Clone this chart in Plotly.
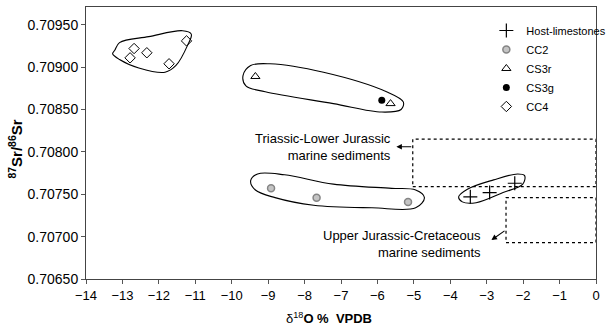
import plotly.graph_objects as go

# ---- data ----
host_x = [-3.45, -2.92, -2.23]
host_y = [0.70747, 0.70752, 0.70763]
cc2_x = [-8.92, -7.67, -5.16]
cc2_y = [0.70757, 0.70746, 0.70741]
cs3r_x = [-9.35, -5.64]
cs3r_y = [0.70889, 0.70857]
cs3g_x = [-5.88]
cs3g_y = [0.70861]
cc4_x = [-12.79, -12.68, -12.33, -11.72, -11.24]
cc4_y = [0.70911, 0.70922, 0.70917, 0.70904, 0.70931]

# outlines drawn around groups
cc4_hull_x = [-13.21, -13.08, -12.28, -11.35, -11.11, -11.21, -11.53, -11.83, -12.55, -13.08, -13.27]
cc4_hull_y = [0.70920, 0.70929, 0.70936, 0.70943, 0.70939, 0.70926, 0.70902, 0.70894, 0.70899, 0.70909, 0.70916]
cs3_hull_x = [-9.69, -9.48, -8.95, -7.48, -5.75, -5.29, -5.35, -5.88, -7.21, -9.08, -9.61]
cs3_hull_y = [0.70890, 0.70902, 0.70904, 0.70894, 0.70871, 0.70859, 0.70850, 0.70847, 0.70857, 0.70871, 0.70878]
cc2_hull_x = [-9.48, -9.29, -8.55, -7.21, -5.61, -4.95, -4.71, -4.95, -6.15, -7.75, -8.81, -9.35]
cc2_hull_y = [0.70766, 0.70774, 0.70773, 0.70762, 0.70757, 0.70755, 0.70746, 0.70734, 0.70734, 0.70737, 0.70746, 0.70755]
host_hull_x = [-3.77, -3.53, -2.81, -2.15, -1.96, -2.01, -2.55, -3.29, -3.67]
host_hull_y = [0.70747, 0.70756, 0.70767, 0.70774, 0.70772, 0.70762, 0.70752, 0.70740, 0.70741]

# marine sediment reference boxes: [x0, x1, y0, y1]
triassic_box = [-5.03, 0.0, 0.70759, 0.70815]
jurassic_box = [-2.47, 0.0, 0.70693, 0.70746]
triassic_label = "Triassic-Lower Jurassic<br>marine sediments"
jurassic_label = "Upper Jurassic-Cretaceous<br>marine sediments"

x_ticks = list(range(-14, 1))
y_ticks = [0.7065, 0.7070, 0.7075, 0.7080, 0.7085, 0.7090, 0.7095]

FONT = "Liberation Sans, Arial, sans-serif"

fig = go.Figure()

def closed(a):
    return a + [a[0]]

for hx, hy in [(cc4_hull_x, cc4_hull_y), (cs3_hull_x, cs3_hull_y),
               (cc2_hull_x, cc2_hull_y), (host_hull_x, host_hull_y)]:
    fig.add_trace(go.Scatter(x=closed(hx), y=closed(hy), mode="lines",
                             line=dict(color="black", width=1.1, shape="spline", smoothing=1.0),
                             showlegend=False, hoverinfo="skip"))

fig.add_trace(go.Scatter(x=host_x, y=host_y, mode="markers", name="Host-limestones",
                         marker=dict(symbol="cross-thin", size=10, line=dict(color="black", width=1.2))))
fig.add_trace(go.Scatter(x=cc2_x, y=cc2_y, mode="markers", name="CC2",
                         marker=dict(symbol="circle", size=7, color="#c4c4c4",
                                     line=dict(color="#858585", width=1.5))))
fig.add_trace(go.Scatter(x=cs3r_x, y=cs3r_y, mode="markers", name="CS3r",
                         marker=dict(symbol="triangle-up-open", size=8, color="black",
                                     line=dict(width=1))))
fig.add_trace(go.Scatter(x=cs3g_x, y=cs3g_y, mode="markers", name="CS3g",
                         marker=dict(symbol="circle", size=7, color="black")))
fig.add_trace(go.Scatter(x=cc4_x, y=cc4_y, mode="markers", name="CC4",
                         marker=dict(symbol="diamond-open", size=8, color="black",
                                     line=dict(width=1))))

for b in (triassic_box, jurassic_box):
    fig.add_shape(type="rect", xref="x", yref="y", x0=b[0], x1=b[1], y0=b[2], y1=b[3],
                  line=dict(color="black", width=1.2, dash="dot"))

# arrows
fig.add_annotation(x=triassic_box[0] - 0.45, y=0.70806, ax=triassic_box[0], ay=0.70806,
                   xref="x", yref="y", axref="x", ayref="y", text="", showarrow=True,
                   arrowhead=2, arrowsize=1, arrowwidth=1.1, arrowcolor="black")
fig.add_annotation(x=jurassic_box[0] - 0.40, y=0.70696, ax=jurassic_box[0], ay=0.70708,
                   xref="x", yref="y", axref="x", ayref="y", text="", showarrow=True,
                   arrowhead=2, arrowsize=1, arrowwidth=1.1, arrowcolor="black")

fig.add_annotation(x=-5.56, y=0.70806, xref="x", yref="y", text=triassic_label,
                   showarrow=False, xanchor="right", yanchor="middle", align="right",
                   font=dict(family=FONT, size=13, color="black"))
fig.add_annotation(x=-3.11, y=0.70691, xref="x", yref="y", text=jurassic_label,
                   showarrow=False, xanchor="right", yanchor="middle", align="right",
                   font=dict(family=FONT, size=13, color="black"))

# axis titles
fig.add_annotation(x=-7.32, y=-0.143, xref="x", yref="paper",
                   text="δ<sup>18</sup><b>O %  VPDB</b>", showarrow=False,
                   xanchor="center", yanchor="middle",
                   font=dict(family=FONT, size=13, color="black"))
fig.add_annotation(x=-0.138, y=0.478, xref="paper", yref="paper",
                   text="<b><sup>87</sup>Sr/<sup>86</sup>Sr</b>", showarrow=False,
                   textangle=-90, xanchor="center", yanchor="middle",
                   font=dict(family=FONT, size=15, color="black"))

axis_common = dict(showline=True, linecolor="#444", linewidth=1, mirror=True,
                   showgrid=False, zeroline=False, ticks="outside", ticklen=4,
                   tickcolor="#555", tickwidth=1)

fig.update_xaxes(range=[-14, 0], tickvals=x_ticks, tickfont=dict(family=FONT, size=13, color="black"),
                 **axis_common)
fig.update_yaxes(range=[0.7065, 0.70971], tickvals=y_ticks, tickformat=".5f",
                 tickfont=dict(family=FONT, size=14, color="black"), **axis_common)

fig.update_layout(
    width=614, height=328,
    margin=dict(l=86, r=3, t=7, b=49),
    plot_bgcolor="white", paper_bgcolor="white",
    showlegend=True,
    legend=dict(x=0.785, y=0.967, xanchor="left", yanchor="top",
                font=dict(family=FONT, size=11, color="black"),
                bgcolor="rgba(0,0,0,0)", itemwidth=30, tracegroupgap=0),
)

fig.write_html("out.html")
